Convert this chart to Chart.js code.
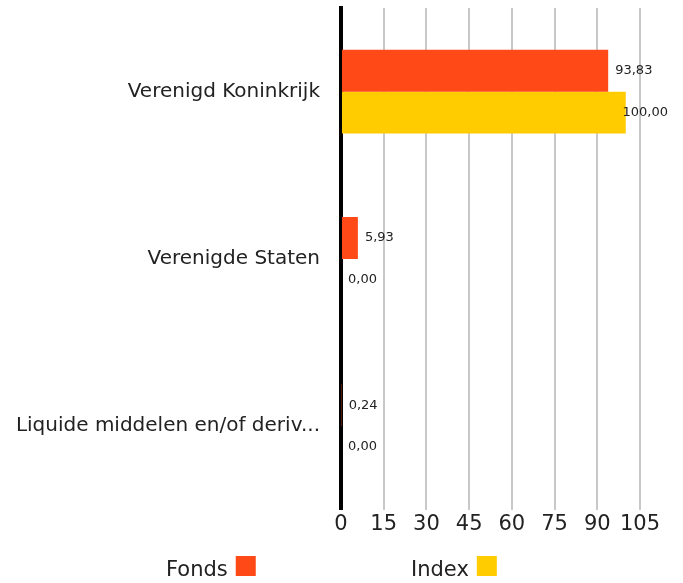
<!DOCTYPE html>
<html><head><meta charset="utf-8">
<script src="https://cdn.jsdelivr.net/npm/chart.js@4"></script>
<style>html,body{margin:0;padding:0;background:#fff;} #wrap{width:683px;height:583px;position:relative;}</style>
</head><body><div id="wrap"><canvas id="c"></canvas></div>
<script>
const categories = ["Verenigd Koninkrijk", "Verenigde Staten", "Liquide middelen en/of deriv..."];
const seriesLabels = ["Fonds", "Index"];
const fondsValues = [93.83, 5.93, 0.24];
const indexValues = [100.00, 0.00, 0.00];
const xTickValues = [0, 15, 30, 45, 60, 75, 90, 105];
const seriesColors = ["#FF4A17", "#FFCC00"];

const FONT = "'DejaVu Sans', sans-serif";

const valueLabels = {
  id: 'valueLabels',
  afterDatasetsDraw(chart) {
    const ctx = chart.ctx;
    ctx.save();
    ctx.font = "13px " + FONT;
    ctx.fillStyle = "#222";
    ctx.textBaseline = "middle";
    ctx.textAlign = "left";
    const limit = chart.chartArea.right + 28;
    chart.data.datasets.forEach((ds, di) => {
      const meta = chart.getDatasetMeta(di);
      meta.data.forEach((bar, i) => {
        const txt = ds.data[i].toFixed(2).replace('.', ',');
        const w = ctx.measureText(txt).width;
        let x = bar.x + 7;
        if (x + w > limit) x = limit - w;
        ctx.fillText(txt, x, bar.y);
      });
    });
    ctx.restore();
  }
};

const bottomLegend = {
  id: 'bottomLegend',
  afterDraw(chart) {
    const ctx = chart.ctx;
    ctx.save();
    ctx.font = "21px " + FONT;
    ctx.textBaseline = "alphabetic";
    ctx.textAlign = "left";
    const starts = [166, 411];
    const y = 576;
    chart.data.datasets.forEach((ds, di) => {
      const txt = ds.label;
      const w = ctx.measureText(txt).width;
      ctx.fillStyle = "#222";
      ctx.fillText(txt, starts[di], y);
      ctx.fillStyle = ds.backgroundColor;
      ctx.fillRect(starts[di] + w + 8, 556, 20, 20);
    });
    ctx.restore();
  }
};

new Chart(document.getElementById('c'), {
  type: 'bar',
  data: {
    labels: categories,
    datasets: [
      { label: seriesLabels[0], data: fondsValues, backgroundColor: seriesColors[0] },
      { label: seriesLabels[1], data: indexValues, backgroundColor: seriesColors[1] }
    ]
  },
  options: {
    indexAxis: 'y',
    responsive: true,
    maintainAspectRatio: false,
    animation: false,
    devicePixelRatio: 1,
    layout: { padding: { top: 8, bottom: 44, left: 0, right: 43 } },
    datasets: { bar: { categoryPercentage: 0.5, barPercentage: 1.0 } },
    plugins: { legend: { display: false }, tooltip: { enabled: false } },
    scales: {
      x: {
        min: 0, max: 105,
        afterBuildTicks(scale) { scale.ticks = xTickValues.map(v => ({ value: v })); },
        grid: {
          drawTicks: false,
          color: ctx => ctx.tick && ctx.tick.value === 0 ? 'rgba(0,0,0,0)' : '#c8c8c8',
          lineWidth: 2
        },
        border: { display: false },
        ticks: { color: '#222', font: { size: 21, family: FONT }, padding: 2, maxRotation: 0, autoSkip: false }
      },
      y: {
        afterFit(scale) { scale.paddingTop = 0; scale.paddingBottom = 0; scale.width = 341; },
        grid: { display: false },
        border: { display: true, color: '#000', width: 4 },
        ticks: { color: '#222', font: { size: 20, family: FONT }, padding: 13 }
      }
    }
  },
  plugins: [valueLabels, bottomLegend]
});
</script></body></html>
